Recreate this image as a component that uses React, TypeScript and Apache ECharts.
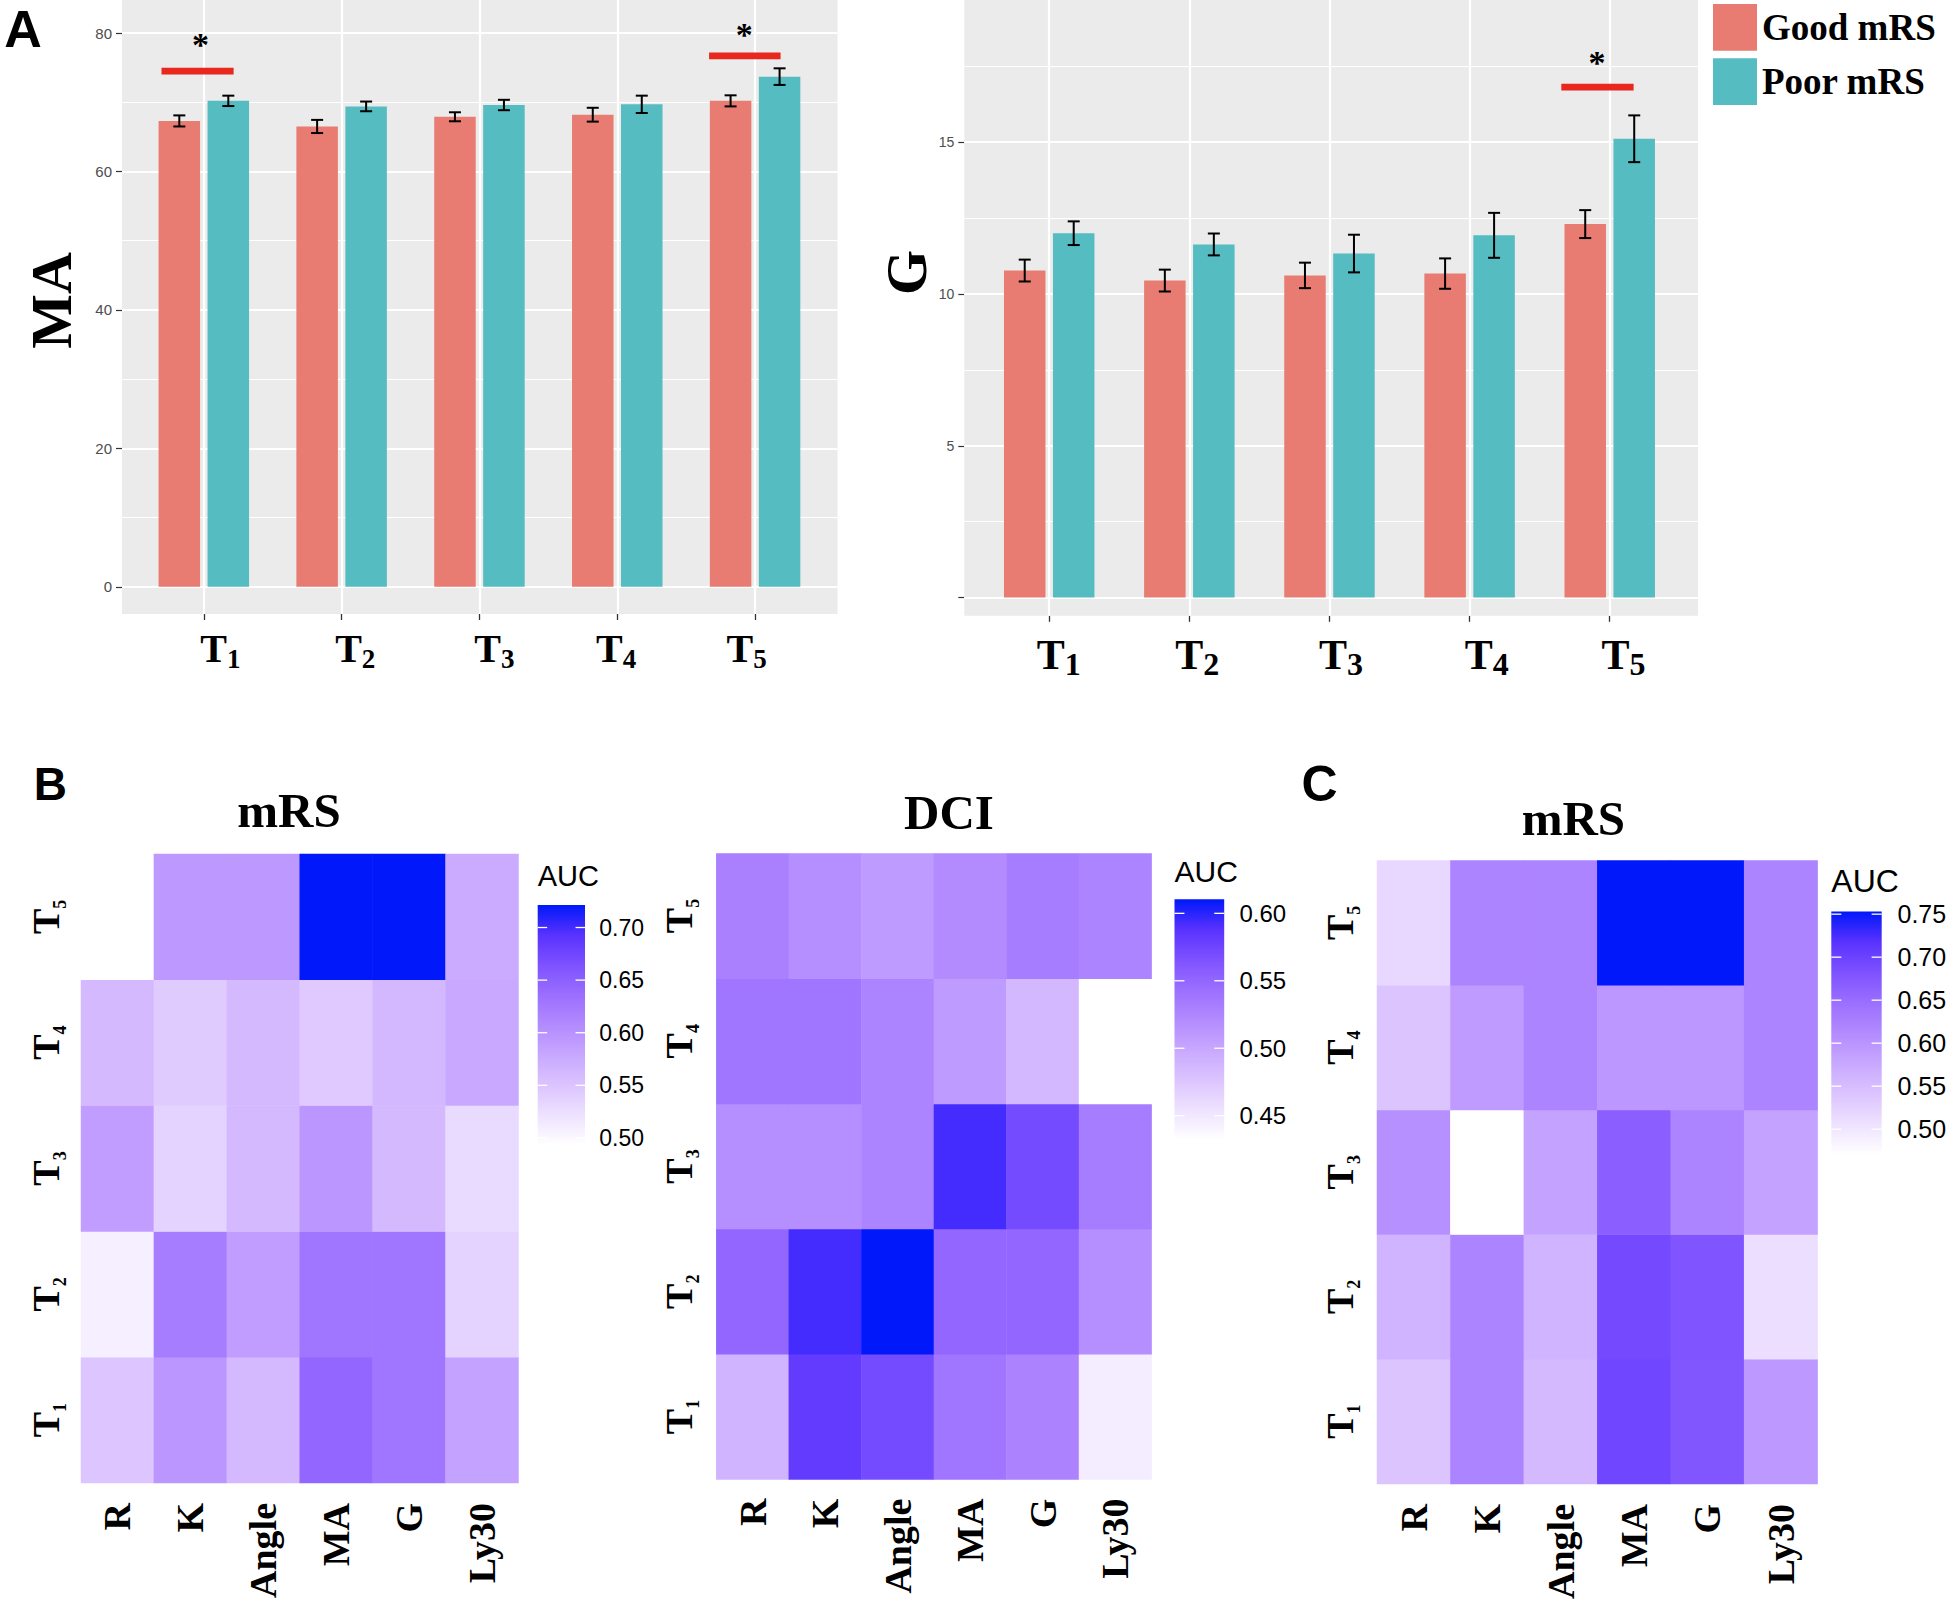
import React, { useEffect, useRef } from 'react';
import * as echarts from 'echarts';

// ---------------- DATA ----------------
const timeLabels = ['T1', 'T2', 'T3', 'T4', 'T5'];
const timeIndex = [1, 2, 3, 4, 5];
const groupNames = ['Good mRS', 'Poor mRS'];

const maGood = [67.3, 66.5, 67.9, 68.2, 70.2];
const maGoodSe = [0.8, 0.95, 0.65, 1.0, 0.8];
const maPoor = [70.2, 69.4, 69.6, 69.7, 73.7];
const maPoorSe = [0.75, 0.7, 0.75, 1.25, 1.2];

const gGood = [10.77, 10.44, 10.61, 10.67, 12.3];
const gGoodSe = [0.36, 0.36, 0.42, 0.5, 0.46];
const gPoor = [12.0, 11.63, 11.33, 11.93, 15.11];
const gPoorSe = [0.39, 0.36, 0.62, 0.74, 0.77];

const maSigTime = [1, 5];
const maSigBar = [74.5, 76.7];
const maSigStar = [79.0, 80.5];
const gSigTime = [5];
const gSigBar = [16.81];
const gSigStar = [17.76];

const maTicks = [0, 20, 40, 60, 80];
const maMinor = [10, 30, 50, 70];
const gTicks = [0, 5, 10, 15];
const gTickLabels = [5, 10, 15];
const gMinor = [2.5, 7.5, 12.5, 17.5];

const tegParams = ['R', 'K', 'Angle', 'MA', 'G', 'Ly30'];
const aucRows = ['T1', 'T2', 'T3', 'T4', 'T5'];

// rows T1..T5, columns R, K, Angle, MA, G, Ly30
const bMrsT1 = [0.548, 0.596, 0.561, 0.644, 0.63, 0.584];
const bMrsT2 = [0.509, 0.621, 0.589, 0.63, 0.63, 0.536];
const bMrsT3 = [0.589, 0.536, 0.561, 0.596, 0.561, 0.529];
const bMrsT4 = [0.561, 0.543, 0.561, 0.545, 0.563, 0.577];
const bMrsT5 = [0.4928, 0.593, 0.593, 0.7214, 0.7214, 0.575];

const dciT1 = [0.489, 0.582, 0.571, 0.539, 0.528, 0.446];
const dciT2 = [0.55, 0.593, 0.6104, 0.55, 0.55, 0.519];
const dciT3 = [0.519, 0.519, 0.527, 0.593, 0.571, 0.532];
const dciT4 = [0.539, 0.539, 0.527, 0.509, 0.486, 0.432];
const dciT5 = [0.53, 0.519, 0.509, 0.521, 0.532, 0.527];

const cMrsT1 = [0.541, 0.62, 0.555, 0.696, 0.677, 0.595];
const cMrsT2 = [0.561, 0.62, 0.561, 0.691, 0.68, 0.51];
const cMrsT3 = [0.606, 0.47, 0.583, 0.668, 0.62, 0.583];
const cMrsT4 = [0.541, 0.592, 0.62, 0.597, 0.597, 0.62];
const cMrsT5 = [0.518, 0.62, 0.62, 0.7531, 0.7531, 0.62];

const bBreaks = [0.5, 0.55, 0.6, 0.65, 0.7];
const dciBreaks = [0.45, 0.5, 0.55, 0.6];
const cBreaks = [0.5, 0.55, 0.6, 0.65, 0.7, 0.75];

// ---------------- STYLE / LAYOUT ----------------
const SERIF = "'Liberation Serif', 'Times New Roman', serif";
const SANS = "'Liberation Sans', Arial, sans-serif";
const GOOD_COLOR = '#E87C72';
const POOR_COLOR = '#55BCC2';
const PANEL_BG = '#EBEBEB';
const SIG_RED = '#E8271D';
// white -> blue gradient interpolated in Lab (as ggplot does)
const AUC_COLORS = [
  '#FFFFFF',
  'rgb(238,226,255)',
  'rgb(220,196,255)',
  'rgb(200,168,255)',
  'rgb(179,139,255)',
  'rgb(155,111,255)',
  'rgb(126,82,255)',
  'rgb(89,50,255)',
  'rgb(0,24,250)',
];

const BAR_W = 41.5;
const BAR_HALF_STEP = 24.5;
const CAP = 6;

const barPanels = [
  { left: 122, top: 0, right: 837.5, bottom: 614, xMin: 0.4064, xMax: 5.598, yMin: -3.93, yMax: 84.77,
    labelOffsets: [16.6, 13.6, 15, -1.1, -8.4], tSize: 40, sSize: 27, sPad: 17.5, margin: 14, tickFont: 15 },
  { left: 964.3, top: 0, right: 1698, bottom: 615.8, xMin: 0.394, xMax: 5.63, yMin: -0.6, yMax: 19.68,
    labelOffsets: [9.5, 7.8, 11.6, 17.2, 13.7], tSize: 42, sSize: 32, sPad: 14, margin: 18.6, tickFont: 14 },
];

const maSigLayout = [{ l: -42.3, r: 29.8, s: -3.2 }, { l: -46, r: 25.5, s: -10.8 }];
const gSigLayout = [{ l: -48.4, r: 23.9, s: -12.6 }];

const heatPanels = [
  { left: 81, top: 854, width: 437.5, height: 629, xMargin: 20, yMargin: 12,
    cb: { x: 537.7, top: 905, bottom: 1145.5, w: 47.3, labelX: 599.3, font: 23, titleY: 876.4, titleFont: 29 } },
  { left: 716.3, top: 853.4, width: 435.3, height: 626.2, xMargin: 19, yMargin: 14,
    cb: { x: 1174.5, top: 899.3, bottom: 1140, w: 49.7, labelX: 1239.5, font: 24, titleY: 871.2, titleFont: 30 } },
  { left: 1377, top: 860.5, width: 440.6, height: 623.5, xMargin: 20, yMargin: 14,
    cb: { x: 1831.3, top: 911.5, bottom: 1155, w: 50.4, labelX: 1897.5, font: 25, titleY: 881, titleFont: 32 } },
];

const HEAT_T = 38;
const HEAT_S = 18;
const HEAT_SPAD = 24;

function heatData(rows: number[][]) {
  const out: number[][] = [];
  rows.forEach((row, yi) => row.forEach((v, xi) => out.push([xi, yi, v])));
  return out;
}

function makeTimeFormatter(offsets: number[]) {
  return (v: number) => {
    const i = Math.round(v) - 1;
    const o = offsets[i] || 0;
    const core = `{t|T}{s|${i + 1}}`;
    if (o > 0.5) return `{o${i}| }${core}`;
    if (o < -0.5) return `${core}{o${i}| }`;
    return core;
  };
}

function makeTimeRich(p: any) {
  const rich: any = {
    t: { fontFamily: SERIF, fontWeight: 'bold', fontSize: p.tSize, lineHeight: p.tSize, verticalAlign: 'top', color: '#000' },
    s: { fontFamily: SERIF, fontWeight: 'bold', fontSize: p.sSize, lineHeight: p.sSize + p.sPad, padding: [p.sPad, 0, 0, 0], verticalAlign: 'bottom', color: '#000' },
  };
  p.labelOffsets.forEach((o: number, i: number) => {
    rich['o' + i] = { width: Math.abs(o) * 2, fontSize: 8, lineHeight: 8 };
  });
  return rich;
}

function errorBarRender(params: any, api: any) {
  const x = api.value(0);
  const v = api.value(1);
  const e = api.value(2);
  const side = api.value(3);
  const top = api.coord([x, v + e]);
  const bot = api.coord([x, v - e]);
  const cx = top[0] + side * BAR_HALF_STEP;
  const st = { stroke: '#000', lineWidth: 2 };
  return {
    type: 'group',
    children: [
      { type: 'line', shape: { x1: cx, y1: top[1], x2: cx, y2: bot[1] }, style: st },
      { type: 'line', shape: { x1: cx - CAP, y1: top[1], x2: cx + CAP, y2: top[1] }, style: st },
      { type: 'line', shape: { x1: cx - CAP, y1: bot[1], x2: cx + CAP, y2: bot[1] }, style: st },
    ],
  };
}

function makeSigRender(layout: any[]) {
  return (params: any, api: any) => {
    const idx = api.value(3);
    const off = layout[idx];
    const p = api.coord([api.value(0), api.value(1)]);
    const s = api.coord([api.value(0), api.value(2)]);
    return {
      type: 'group',
      children: [
        { type: 'rect', shape: { x: p[0] + off.l, y: p[1] - 3.3, width: off.r - off.l, height: 6.6 }, style: { fill: SIG_RED } },
        {
          type: 'text', x: s[0] + off.s, y: s[1] + 4.5,
          style: { text: '*', fontSize: 34, fontFamily: SERIF, fontWeight: 'bold', fill: '#000',
            align: 'center', verticalAlign: 'middle', textAlign: 'center', textVerticalAlign: 'middle' },
        },
      ],
    };
  };
}

function gridLineSeries(idx: number, major: number[], minor: number[]) {
  const data: any[] = [];
  major.forEach((v) => data.push({ yAxis: v, lineStyle: { color: '#FFFFFF', width: 2.2, type: 'solid' } }));
  minor.forEach((v) => data.push({ yAxis: v, lineStyle: { color: '#FFFFFF', width: 1.1, type: 'solid' } }));
  timeIndex.forEach((v) => data.push({ xAxis: v, lineStyle: { color: '#FFFFFF', width: 2.2, type: 'solid' } }));
  return {
    type: 'line', xAxisIndex: idx, yAxisIndex: idx, data: [], silent: true, z: 1,
    markLine: {
      silent: true, z: 1, symbol: ['none', 'none'], label: { show: false },
      emphasis: { disabled: true }, animation: false, data,
    },
  };
}

function textEl(text: string, x: number, y: number, size: number, family: string, extra: any = {}) {
  return {
    type: 'text', x, y, rotation: extra.rotation || 0, silent: true,
    style: {
      text, fontSize: size, fontFamily: family, fontWeight: extra.weight || 'bold', fill: extra.fill || '#000',
      textAlign: extra.align || 'center', textVerticalAlign: 'middle',
      align: extra.align || 'center', verticalAlign: 'middle',
    },
  };
}

function colorbarEls(cb: any, breaks: number[], vmin: number, vmax: number) {
  const els: any[] = [];
  const stops = AUC_COLORS.slice().reverse().map((c, i, arr) => ({ offset: i / (arr.length - 1), color: c }));
  els.push({
    type: 'rect', silent: true,
    shape: { x: cb.x, y: cb.top, width: cb.w, height: cb.bottom - cb.top },
    style: { fill: new echarts.graphic.LinearGradient(0, 0, 0, 1, stops) },
  });
  const yOf = (v: number) => cb.top + ((vmax - v) / (vmax - vmin)) * (cb.bottom - cb.top);
  breaks.forEach((b) => {
    const y = yOf(b);
    const tl = cb.w * 0.2;
    els.push({ type: 'line', silent: true, shape: { x1: cb.x, y1: y, x2: cb.x + tl, y2: y }, style: { stroke: '#FFFFFF', lineWidth: 1.3 } });
    els.push({ type: 'line', silent: true, shape: { x1: cb.x + cb.w - tl, y1: y, x2: cb.x + cb.w, y2: y }, style: { stroke: '#FFFFFF', lineWidth: 1.3 } });
    els.push(textEl(b.toFixed(2), cb.labelX, y, cb.font, SANS, { weight: 'normal', align: 'left' }));
  });
  els.push(textEl('AUC', cb.x, cb.titleY, cb.titleFont, SANS, { weight: 'normal', align: 'left' }));
  return els;
}

function buildOption() {
  const grids: any[] = [];
  const xAxes: any[] = [];
  const yAxes: any[] = [];
  const series: any[] = [];
  const visualMaps: any[] = [];

  // ---- bar panels ----
  const barSets = [
    { good: maGood, goodSe: maGoodSe, poor: maPoor, poorSe: maPoorSe, ticks: maTicks, tickLabels: maTicks, minor: maMinor,
      sigT: maSigTime, sigB: maSigBar, sigS: maSigStar, sigL: maSigLayout },
    { good: gGood, goodSe: gGoodSe, poor: gPoor, poorSe: gPoorSe, ticks: gTicks, tickLabels: gTickLabels, minor: gMinor,
      sigT: gSigTime, sigB: gSigBar, sigS: gSigStar, sigL: gSigLayout },
  ];
  barPanels.forEach((p, i) => {
    const d = barSets[i];
    grids.push({
      left: p.left, top: p.top, width: p.right - p.left, height: p.bottom - p.top,
      show: true, backgroundColor: PANEL_BG, borderWidth: 0, containLabel: false, outerBoundsMode: 'none',
    });
    xAxes.push({
      type: 'value', gridIndex: i, min: p.xMin, max: p.xMax, position: 'bottom',
      axisLine: { show: false, onZero: false }, splitLine: { show: false },
      axisTick: { show: true, customValues: timeIndex, length: 6, lineStyle: { color: '#333333', width: 1.3 } },
      axisLabel: { show: true, customValues: timeIndex, margin: p.margin, formatter: makeTimeFormatter(p.labelOffsets), rich: makeTimeRich(p) },
    });
    yAxes.push({
      type: 'value', gridIndex: i, min: p.yMin, max: p.yMax, position: 'left',
      axisLine: { show: false, onZero: false }, splitLine: { show: false },
      axisTick: { show: true, customValues: d.ticks, length: 6, lineStyle: { color: '#333333', width: 1.2 } },
      axisLabel: { show: true, customValues: d.tickLabels, margin: 10, color: '#4D4D4D', fontFamily: SANS, fontSize: p.tickFont },
    });
    series.push(gridLineSeries(i, d.ticks, d.minor));
    series.push({
      type: 'bar', name: groupNames[0], xAxisIndex: i, yAxisIndex: i, barWidth: BAR_W, barGap: '18%', z: 2,
      itemStyle: { color: GOOD_COLOR }, silent: true,
      data: timeIndex.map((t, k) => [t, d.good[k]]),
    });
    series.push({
      type: 'bar', name: groupNames[1], xAxisIndex: i, yAxisIndex: i, barWidth: BAR_W, barGap: '18%', z: 2,
      itemStyle: { color: POOR_COLOR }, silent: true,
      data: timeIndex.map((t, k) => [t, d.poor[k]]),
    });
    series.push({
      type: 'custom', xAxisIndex: i, yAxisIndex: i, z: 3, silent: true, renderItem: errorBarRender,
      encode: { x: 0, y: 1 },
      data: timeIndex.map((t, k) => [t, d.good[k], d.goodSe[k], -1]).concat(timeIndex.map((t, k) => [t, d.poor[k], d.poorSe[k], 1])),
    });
    series.push({
      type: 'custom', xAxisIndex: i, yAxisIndex: i, z: 4, silent: true, clip: false, renderItem: makeSigRender(d.sigL),
      encode: { x: 0, y: 1 },
      data: d.sigT.map((t, k) => [t, d.sigB[k], d.sigS[k], k]),
    });
  });

  // ---- heatmaps ----
  const heatSets = [
    { rows: [bMrsT1, bMrsT2, bMrsT3, bMrsT4, bMrsT5], breaks: bBreaks },
    { rows: [dciT1, dciT2, dciT3, dciT4, dciT5], breaks: dciBreaks },
    { rows: [cMrsT1, cMrsT2, cMrsT3, cMrsT4, cMrsT5], breaks: cBreaks },
  ];
  const graphics: any[] = [];
  heatPanels.forEach((p, j) => {
    const gi = 2 + j;
    const d = heatSets[j];
    const flat = d.rows.flat();
    const vmin = Math.min(...flat);
    const vmax = Math.max(...flat);
    grids.push({ left: p.left, top: p.top, width: p.width, height: p.height, show: false, containLabel: false, outerBoundsMode: 'none' });
    xAxes.push({
      type: 'category', gridIndex: gi, data: tegParams,
      axisLine: { show: false }, axisTick: { show: false }, splitLine: { show: false }, splitArea: { show: false },
      axisLabel: { rotate: 90, interval: 0, margin: p.xMargin, fontFamily: SERIF, fontWeight: 'bold', fontSize: 38, color: '#000' },
    });
    yAxes.push({
      type: 'category', gridIndex: gi, data: aucRows,
      axisLine: { show: false }, axisTick: { show: false }, splitLine: { show: false }, splitArea: { show: false },
      axisLabel: {
        rotate: 90, interval: 0, margin: p.yMargin,
        formatter: (v: string) => `{t|T}{s|${v.slice(1)}}`,
        rich: {
          t: { fontFamily: SERIF, fontWeight: 'bold', fontSize: HEAT_T, lineHeight: HEAT_T, verticalAlign: 'top', color: '#000' },
          s: { fontFamily: SERIF, fontWeight: 'bold', fontSize: HEAT_S, lineHeight: HEAT_S + HEAT_SPAD, padding: [HEAT_SPAD, 0, 0, 0], verticalAlign: 'bottom', color: '#000' },
        },
      },
    });
    const sIdx = series.length;
    series.push({
      type: 'heatmap', xAxisIndex: gi, yAxisIndex: gi, data: heatData(d.rows), silent: true,
      emphasis: { disabled: true }, progressive: 0,
    });
    visualMaps.push({
      type: 'continuous', show: false, seriesIndex: sIdx, dimension: 2, min: vmin, max: vmax,
      inRange: { color: AUC_COLORS },
    });
    graphics.push(...colorbarEls(p.cb, d.breaks, vmin, vmax));
  });

  // ---- texts ----
  graphics.push(textEl('A', 23, 29, 52, SANS));
  graphics.push(textEl('B', 50.4, 784, 46, SANS));
  graphics.push(textEl('C', 1319.5, 784, 50, SANS));
  graphics.push(textEl('MA', 51.5, 300.5, 58, SERIF, { rotation: Math.PI / 2 }));
  graphics.push(textEl('G', 906, 272.5, 58, SERIF, { rotation: Math.PI / 2 }));
  graphics.push(textEl('mRS', 289, 810, 49, SERIF));
  graphics.push(textEl('DCI', 949, 812, 49, SERIF));
  graphics.push(textEl('mRS', 1573.4, 818, 49, SERIF));

  return {
    animation: false,
    backgroundColor: '#FFFFFF',
    grid: grids,
    xAxis: xAxes,
    yAxis: yAxes,
    visualMap: visualMaps,
    legend: {
      data: groupNames, orient: 'vertical', left: 1713, top: 4, itemWidth: 44, itemHeight: 46.7, itemGap: 7.6,
      icon: 'rect', selectedMode: false, padding: 0,
      textStyle: { fontFamily: SERIF, fontWeight: 'bold', fontSize: 37, color: '#000' },
    },
    graphic: { elements: graphics },
    series,
  };
}

export default function App() {
  const ref = useRef<HTMLDivElement>(null);
  useEffect(() => {
    if (!ref.current) return;
    const chart = echarts.init(ref.current, undefined, { renderer: 'svg' });
    chart.setOption(buildOption() as any);
    return () => chart.dispose();
  }, []);
  return (
    <div
      ref={ref}
      style={{ position: 'fixed', left: 0, top: 0, width: 1950, height: 1599, background: '#FFFFFF' }}
    />
  );
}
